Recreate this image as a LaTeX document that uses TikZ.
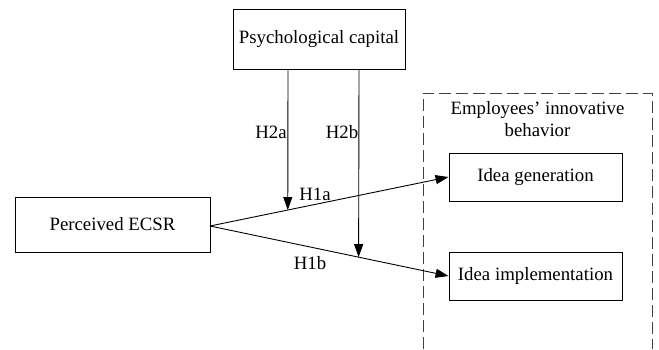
\documentclass[tikz,border=0pt]{standalone}
\usepackage{fontspec}
\setmainfont{Liberation Serif}
\usetikzlibrary{arrows.meta}
\begin{document}
\begin{tikzpicture}[x=1pt,y=-1pt,
  box/.style={draw,line width=0.9pt,inner sep=0pt,font=\fontsize{18.8}{22}\selectfont},
  conn/.style={line width=0.9pt,-{Triangle[length=13pt,width=9pt]}},
  lbl/.style={inner sep=0pt,font=\fontsize{18.8}{22}\selectfont}]
\useasboundingbox (0,0) rectangle (659,349);
\node[box,minimum width=172pt,minimum height=60pt] (psy) at (319,39) {Psychological capital};
\node[box,minimum width=195pt,minimum height=55pt] (ecsr) at (112.5,224.5) {Perceived ECSR};
\node[box,minimum width=173pt,minimum height=48pt] (gen) at (535.5,177) {Idea generation};
\node[box,minimum width=173pt,minimum height=48pt] (imp) at (535.5,276) {Idea implementation};
\coordinate (d1) at (423,349);
\coordinate (d2) at (423,93);
\coordinate (d3) at (652,93);
\coordinate (d4) at (652,349);
\draw[line width=0.9pt,draw=black!75,dash pattern=on 12pt off 5pt] (d1) -- (d2) -- (d3) -- (d4);
\node[lbl,align=center] (eib) at (537.5,119) {Employees’ innovative\\[0pt]behavior};
\coordinate (o) at (210,226);
\draw[conn] (o) -- (gen.west) coordinate[pos=0.326] (m1);
\draw[conn] (o) -- (imp.west) coordinate[pos=0.623] (m2);
\coordinate (s1) at (288,69);
\coordinate (s2) at (359,69);
\draw[conn] (s1) -- (m1);
\draw[conn] (s2) -- (m2);
\node[lbl] (h2a) at (271,132) {H2a};
\node[lbl] (h2b) at (342,132) {H2b};
\node[lbl] (h1a) at (315,194) {H1a};
\node[lbl] (h1b) at (310,263) {H1b};
\end{tikzpicture}
\end{document}
